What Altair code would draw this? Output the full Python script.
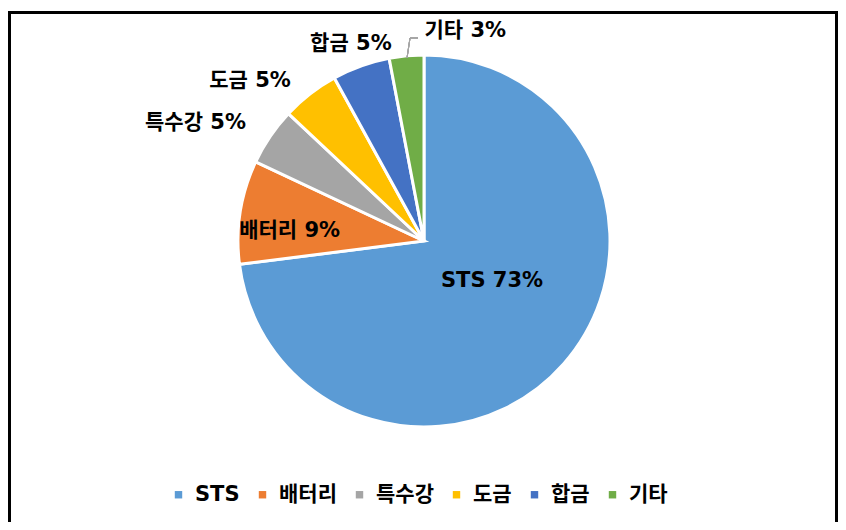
import altair as alt
import pandas as pd

categories = ["STS", "배터리", "특수강", "도금", "합금", "기타"]
shares = [73, 9, 5, 5, 5, 3]
colors = ["#5B9BD5", "#ED7D31", "#A5A5A5", "#FFC000", "#4472C4", "#70AD47"]

df = pd.DataFrame({"category": categories, "share": shares, "idx": list(range(len(categories)))})
df["label"] = df["category"] + " " + df["share"].astype(str) + "%"

W, H = 830, 514
CX, CY = 416, 230
R = 186
FONT = "DejaVu Sans, Noto Sans CJK KR"

base = alt.Chart(df).encode(
    theta=alt.Theta("share:Q", stack=True),
    order=alt.Order("idx:Q"),
)

pie = base.mark_arc(radius=R, stroke="white", strokeWidth=3).encode(
    x=alt.value(CX),
    y=alt.value(CY),
    color=alt.Color(
        "category:N",
        scale=alt.Scale(domain=categories, range=colors),
        sort=categories,
        legend=alt.Legend(
            orient="none", direction="horizontal", legendX=160, legendY=473,
            title=None, symbolType="square", symbolSize=55, symbolStrokeWidth=0,
            labelFontSize=21, labelFont=FONT, labelFontWeight="bold",
            labelColor="black", columnPadding=12, labelOffset=6,
        ),
    ),
)

# (category, radius, dx, dy)
label_specs = [
    ("STS", 80, 8, -13),
    ("배터리", 135, -1, 11),
    ("특수강", 240, -30, 17),
    ("도금", 230, -33, 22),
    ("합금", 210, -2, 1),
    ("기타", 210, 61, -1),
]

layers = [pie]
for cat, rad, dx, dy in label_specs:
    layers.append(
        base.mark_text(
            radius=rad, dx=dx, dy=dy, font=FONT, fontSize=21, fontWeight="bold",
            color="black", align="center", baseline="middle",
        ).encode(
            x=alt.value(CX),
            y=alt.value(CY),
            text=alt.condition(alt.datum.category == cat, alt.Text("label:N"), alt.value("")),
        )
    )

leader1 = alt.Chart(df).mark_rule(color="#A5A5A5", strokeWidth=1).encode(
    x=alt.value(399), y=alt.value(47), x2=alt.value(402), y2=alt.value(27)
)
leader2 = alt.Chart(df).mark_rule(color="#A5A5A5", strokeWidth=1).encode(
    x=alt.value(402), y=alt.value(27), x2=alt.value(410), y2=alt.value(27)
)
frame = alt.Chart(df).mark_rect(fill=None, stroke="black", strokeWidth=3).encode(
    x=alt.value(1.5), x2=alt.value(W - 1.5), y=alt.value(1.5), y2=alt.value(H - 1.5)
)

chart = alt.layer(*layers, leader1, leader2, frame).properties(
    width=W, height=H, padding=0,
    autosize=alt.AutoSizeParams(type="fit", contains="padding"),
).configure_view(stroke=None)

chart.save("out.html", embed_options={"renderer": "svg", "actions": False})
